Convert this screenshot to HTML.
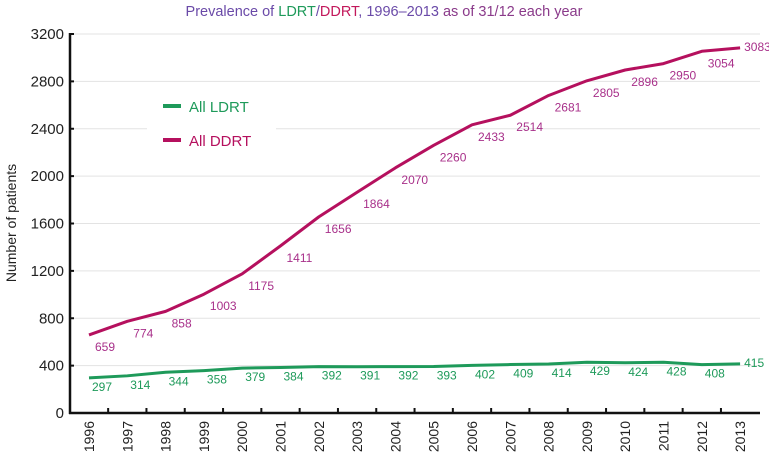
<!DOCTYPE html>
<html><head><meta charset="utf-8"><style>
body{margin:0;background:#fff;}
svg{display:block;font-family:"Liberation Sans",sans-serif;}
</style></head><body>
<svg id="chart" width="769" height="462" viewBox="0 0 769 462">
<text x="384" y="16" text-anchor="middle" font-size="14.5" fill="#6a4aa8">Prevalence of <tspan fill="#1e9a5a">LDRT</tspan>/<tspan fill="#c2185b">DDRT</tspan>, 1996–2013 <tspan fill="#8a3a8a">as of 31/12 each year</tspan></text>
<g id="grid"></g>
<g id="axes"></g>
<g id="series"></g>
<text transform="translate(16,223) rotate(-90)" text-anchor="middle" font-size="14" fill="#222">Number of patients</text>
<g>
<rect x="147" y="118" width="129" height="20" fill="#fff"/>
<line x1="163" y1="106" x2="181" y2="106" stroke="#1e9a5a" stroke-width="4"/>
<text x="189" y="112" font-size="15" fill="#1e9a5a">All LDRT</text>
<line x1="163" y1="140" x2="181" y2="140" stroke="#b5105e" stroke-width="4"/>
<text x="189" y="146" font-size="15" fill="#b5105e">All DDRT</text>
</g>
</svg>
<script>
const years=["1996","1997","1998","1999","2000","2001","2002","2003","2004","2005","2006","2007","2008","2009","2010","2011","2012","2013"];
const ldrt=[297,314,344,358,379,384,392,391,392,393,402,409,414,429,424,428,408,415];
const ddrt=[659,774,858,1003,1175,1411,1656,1864,2070,2260,2433,2514,2681,2805,2896,2950,3054,3083];
const yTicks=[0,400,800,1200,1600,2000,2400,2800,3200];
const NS="http://www.w3.org/2000/svg";
const x0=89,dx=38.3,yBase=413,yTop=34,yMax=3200,axisX=70;
function X(i){return x0+i*dx;}
function Y(v){return yBase-(v/yMax)*(yBase-yTop);}
function mk(p,tag,attrs){const e=document.createElementNS(NS,tag);for(const k in attrs)e.setAttribute(k,attrs[k]);p.appendChild(e);return e;}
const grid=document.getElementById('grid'),axes=document.getElementById('axes'),ser=document.getElementById('series');
yTicks.forEach(t=>{
  if(t>0){const g=mk(grid,'line',{x1:axisX,x2:760,y1:Y(t),y2:Y(t),stroke:'#e3e3e3','stroke-width':1});
  
  }
  const tk=mk(axes,'line',{x1:axisX,x2:axisX+4,y1:Y(t),y2:Y(t),stroke:'#111','stroke-width':2});
  
  
  const l=mk(axes,'text',{x:axisX-6,y:Y(t)+5,'text-anchor':'end','font-size':15,fill:'#222'});
  l.textContent=t;
  
  
});
const ya=mk(axes,'line',{x1:axisX,x2:axisX,y1:yTop-1,y2:yBase+1,stroke:'#111','stroke-width':2.5});


const xa=mk(axes,'line',{x1:axisX-1,x2:760,y1:yBase,y2:yBase,stroke:'#111','stroke-width':2.5});


years.forEach((y,i)=>{
  if(i<years.length-1){const tk=mk(axes,'line',{x1:X(i)+dx/2,x2:X(i)+dx/2,y1:yBase,y2:yBase-5,stroke:'#111','stroke-width':2});
  
  }
  const t=mk(axes,'text',{transform:`translate(${X(i)+5},${yBase+8}) rotate(-90)`,'text-anchor':'end','font-size':14,fill:'#222'});
  t.textContent=y;
  
  
});
function series(vals,color,lcolor,name,lx,ly){
  const p=mk(ser,'polyline',{points:vals.map((v,i)=>X(i)+','+Y(v)).join(' '),fill:'none',stroke:color,'stroke-width':3,'stroke-linejoin':'round'});
  
  
  vals.forEach((v,i)=>{
    const last=i===vals.length-1;
    const t=mk(ser,'text',{x:last?X(i)+4:X(i)+lx,y:last?Y(v)+3:Y(v)+ly,'font-size':12,fill:lcolor});
    t.textContent=v;
    
    
  });
}
series(ldrt,'#1e9a5a','#1e9a5a','ldrt',3,13);
series(ddrt,'#b5105e','#a8308a','ddrt',6,16);
</script>
</body></html>
